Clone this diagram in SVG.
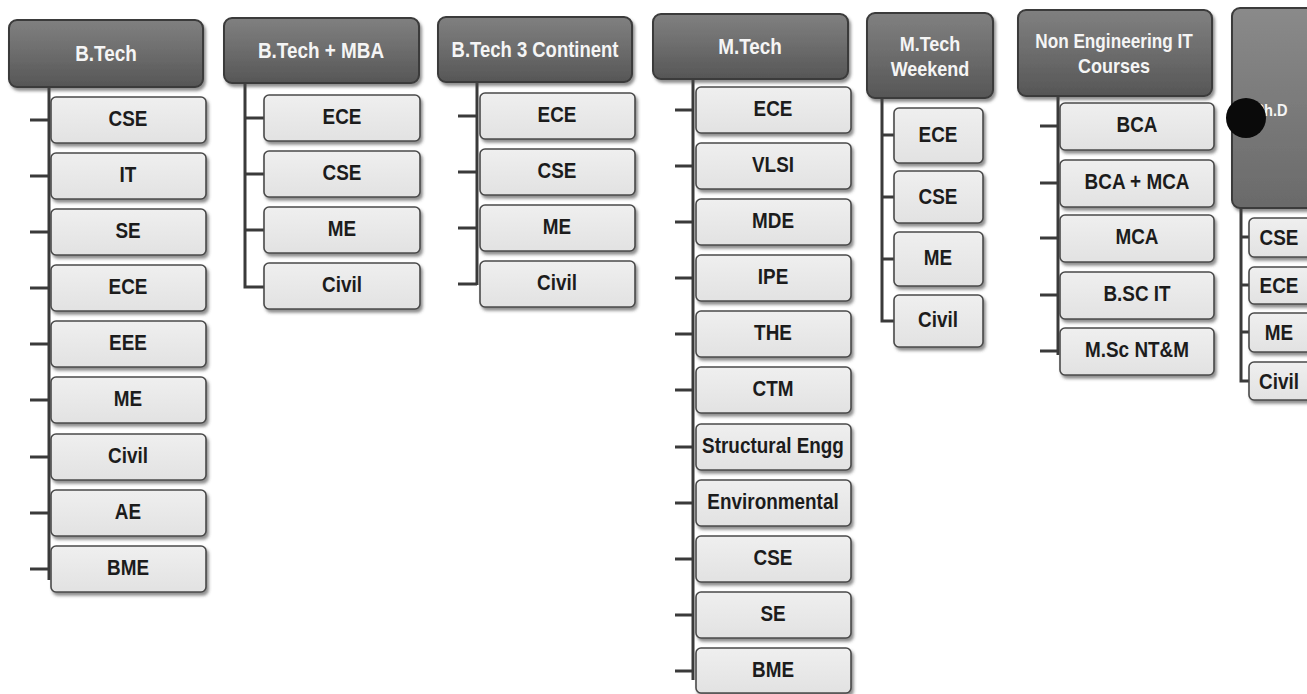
<svg xmlns="http://www.w3.org/2000/svg" width="1307" height="694" viewBox="0 0 1307 694">
<defs>
<linearGradient id="hg" x1="0" y1="0" x2="0" y2="1">
<stop offset="0" stop-color="#808080"/>
<stop offset="0.5" stop-color="#6c6c6c"/>
<stop offset="1" stop-color="#565656"/>
</linearGradient>
<linearGradient id="pg" x1="0" y1="0" x2="0" y2="1">
<stop offset="0" stop-color="#8a8a8a"/>
<stop offset="1" stop-color="#6a6a6a"/>
</linearGradient>
<linearGradient id="bg" x1="0" y1="0" x2="0" y2="1">
<stop offset="0" stop-color="#efefef"/>
<stop offset="1" stop-color="#e2e2e2"/>
</linearGradient>
<filter id="sh" x="-10%" y="-10%" width="130%" height="140%">
<feDropShadow dx="2" dy="3" stdDeviation="1.5" flood-color="#444" flood-opacity="0.6"/>
</filter>
</defs>
<style>
text{font-family:"Liberation Sans",Arial,sans-serif;font-weight:bold;text-anchor:middle}
.hdr rect{fill:url(#hg);stroke:#3a3a3a;stroke-width:2;filter:url(#sh)}
.hdr text{fill:#f5f5f5;font-size:22px}
.hdr text.two{font-size:20px}
.box rect{fill:url(#bg);stroke:#4a4a4a;stroke-width:1.6;filter:url(#sh)}
.box text{fill:#1c1c1c;font-size:22px}
.conn path{stroke:#3a3a3a;stroke-width:3;fill:none}
</style>
<rect width="1307" height="694" fill="#ffffff"/>

<g class="conn">
<path d="M49 87V580M30 120H49M30 176H49M30 232H49M30 288H49M30 344H49M30 400H49M30 457H49M30 513H49M30 569H49"/>
<path d="M245 83V287H264M245 118H264M245 174H264M245 230H264"/>
<path d="M477 82V285M458 116H477M458 172H477M458 228H477M458 284H477"/>
<path d="M693 79V680M675 110H693M675 166H693M675 222H693M675 278H693M675 334H693M675 390H693M675 447H693M675 503H693M675 559H693M675 615H693M675 671H693"/>
<path d="M882 98V321H894M882 135H894M882 197H894M882 259H894"/>
<path d="M1058 96V355M1040 126H1058M1040 183H1058M1040 238H1058M1040 295H1058M1040 351H1058"/>
<path d="M1241 208V381H1249M1241 237H1249M1241 285H1249M1241 332H1249"/>
</g>

<g id="btech">
<g class="hdr"><rect x="9" y="20" width="194" height="67" rx="8"/><text transform="translate(106 61) scale(.86 1)">B.Tech</text></g>
<g class="box">
<rect x="51" y="97" width="155" height="46" rx="5"/><text transform="translate(128 126) scale(.86 1)">CSE</text>
<rect x="51" y="153" width="155" height="46" rx="5"/><text transform="translate(128 182) scale(.86 1)">IT</text>
<rect x="51" y="209" width="155" height="46" rx="5"/><text transform="translate(128 238) scale(.86 1)">SE</text>
<rect x="51" y="265" width="155" height="46" rx="5"/><text transform="translate(128 294) scale(.86 1)">ECE</text>
<rect x="51" y="321" width="155" height="46" rx="5"/><text transform="translate(128 350) scale(.86 1)">EEE</text>
<rect x="51" y="377" width="155" height="46" rx="5"/><text transform="translate(128 406) scale(.86 1)">ME</text>
<rect x="51" y="434" width="155" height="46" rx="5"/><text transform="translate(128 463) scale(.86 1)">Civil</text>
<rect x="51" y="490" width="155" height="46" rx="5"/><text transform="translate(128 519) scale(.86 1)">AE</text>
<rect x="51" y="546" width="155" height="46" rx="5"/><text transform="translate(128 575) scale(.86 1)">BME</text>
</g>
</g>

<g id="btech-mba">
<g class="hdr"><rect x="224" y="18" width="195" height="65" rx="8"/><text transform="translate(321 58) scale(.86 1)">B.Tech + MBA</text></g>
<g class="box">
<rect x="264" y="95" width="156" height="46" rx="5"/><text transform="translate(342 124) scale(.86 1)">ECE</text>
<rect x="264" y="151" width="156" height="46" rx="5"/><text transform="translate(342 180) scale(.86 1)">CSE</text>
<rect x="264" y="207" width="156" height="46" rx="5"/><text transform="translate(342 236) scale(.86 1)">ME</text>
<rect x="264" y="263" width="156" height="46" rx="5"/><text transform="translate(342 292) scale(.86 1)">Civil</text>
</g>
</g>

<g id="btech-3c">
<g class="hdr"><rect x="438" y="17" width="194" height="65" rx="8"/><text transform="translate(535 57) scale(.84 1)">B.Tech 3 Continent</text></g>
<g class="box">
<rect x="480" y="93" width="155" height="46" rx="5"/><text transform="translate(557 122) scale(.86 1)">ECE</text>
<rect x="480" y="149" width="155" height="46" rx="5"/><text transform="translate(557 178) scale(.86 1)">CSE</text>
<rect x="480" y="205" width="155" height="46" rx="5"/><text transform="translate(557 234) scale(.86 1)">ME</text>
<rect x="480" y="261" width="155" height="46" rx="5"/><text transform="translate(557 290) scale(.86 1)">Civil</text>
</g>
</g>

<g id="mtech">
<g class="hdr"><rect x="653" y="14" width="195" height="65" rx="8"/><text transform="translate(750 54) scale(.86 1)">M.Tech</text></g>
<g class="box">
<rect x="696" y="87" width="155" height="46" rx="5"/><text transform="translate(773 116) scale(.86 1)">ECE</text>
<rect x="696" y="143" width="155" height="46" rx="5"/><text transform="translate(773 172) scale(.86 1)">VLSI</text>
<rect x="696" y="199" width="155" height="46" rx="5"/><text transform="translate(773 228) scale(.86 1)">MDE</text>
<rect x="696" y="255" width="155" height="46" rx="5"/><text transform="translate(773 284) scale(.86 1)">IPE</text>
<rect x="696" y="311" width="155" height="46" rx="5"/><text transform="translate(773 340) scale(.86 1)">THE</text>
<rect x="696" y="367" width="155" height="46" rx="5"/><text transform="translate(773 396) scale(.86 1)">CTM</text>
<rect x="696" y="424" width="155" height="46" rx="5"/><text transform="translate(773 453) scale(.86 1)">Structural Engg</text>
<rect x="696" y="480" width="155" height="46" rx="5"/><text transform="translate(773 509) scale(.86 1)">Environmental</text>
<rect x="696" y="536" width="155" height="46" rx="5"/><text transform="translate(773 565) scale(.86 1)">CSE</text>
<rect x="696" y="592" width="155" height="46" rx="5"/><text transform="translate(773 621) scale(.86 1)">SE</text>
<rect x="696" y="648" width="155" height="45" rx="5"/><text transform="translate(773 677) scale(.86 1)">BME</text>
</g>
</g>

<g id="mtech-weekend">
<g class="hdr"><rect x="867" y="13" width="126" height="85" rx="8"/><text class="two" transform="translate(930 51) scale(.9 1)">M.Tech</text><text class="two" transform="translate(930 76) scale(.9 1)">Weekend</text></g>
<g class="box">
<rect x="894" y="108" width="89" height="55" rx="5"/><text transform="translate(938 142) scale(.86 1)">ECE</text>
<rect x="894" y="171" width="89" height="52" rx="5"/><text transform="translate(938 204) scale(.86 1)">CSE</text>
<rect x="894" y="232" width="89" height="54" rx="5"/><text transform="translate(938 265) scale(.86 1)">ME</text>
<rect x="894" y="295" width="89" height="52" rx="5"/><text transform="translate(938 327) scale(.86 1)">Civil</text>
</g>
</g>

<g id="non-eng-it">
<g class="hdr"><rect x="1018" y="10" width="194" height="86" rx="8"/><text class="two" transform="translate(1114 48) scale(.86 1)">Non Engineering IT</text><text class="two" transform="translate(1114 73) scale(.9 1)">Courses</text></g>
<g class="box">
<rect x="1060" y="103" width="154" height="47" rx="5"/><text transform="translate(1137 132) scale(.86 1)">BCA</text>
<rect x="1060" y="160" width="154" height="47" rx="5"/><text transform="translate(1137 189) scale(.86 1)">BCA + MCA</text>
<rect x="1060" y="215" width="154" height="47" rx="5"/><text transform="translate(1137 244) scale(.86 1)">MCA</text>
<rect x="1060" y="272" width="154" height="47" rx="5"/><text transform="translate(1137 301) scale(.86 1)">B.SC IT</text>
<rect x="1060" y="328" width="154" height="47" rx="5"/><text transform="translate(1137 357) scale(.86 1)">M.Sc NT&amp;M</text>
</g>
</g>

<g id="phd">
<g class="hdr"><rect x="1232" y="8" width="110" height="200" rx="8" style="fill:url(#pg)"/><text transform="translate(1271 116) scale(.86 1)" style="font-size:17px">Ph.D</text></g>
<circle cx="1246" cy="118" r="20" fill="#0a0a0a"/>
<g class="box">
<rect x="1249" y="218" width="80" height="39" rx="5"/><text transform="translate(1279 245) scale(.86 1)">CSE</text>
<rect x="1249" y="267" width="80" height="37" rx="5"/><text transform="translate(1279 293) scale(.86 1)">ECE</text>
<rect x="1249" y="313" width="80" height="39" rx="5"/><text transform="translate(1279 340) scale(.86 1)">ME</text>
<rect x="1249" y="362" width="80" height="38" rx="5"/><text transform="translate(1279 389) scale(.86 1)">Civil</text>
</g>
</g>
</svg>
